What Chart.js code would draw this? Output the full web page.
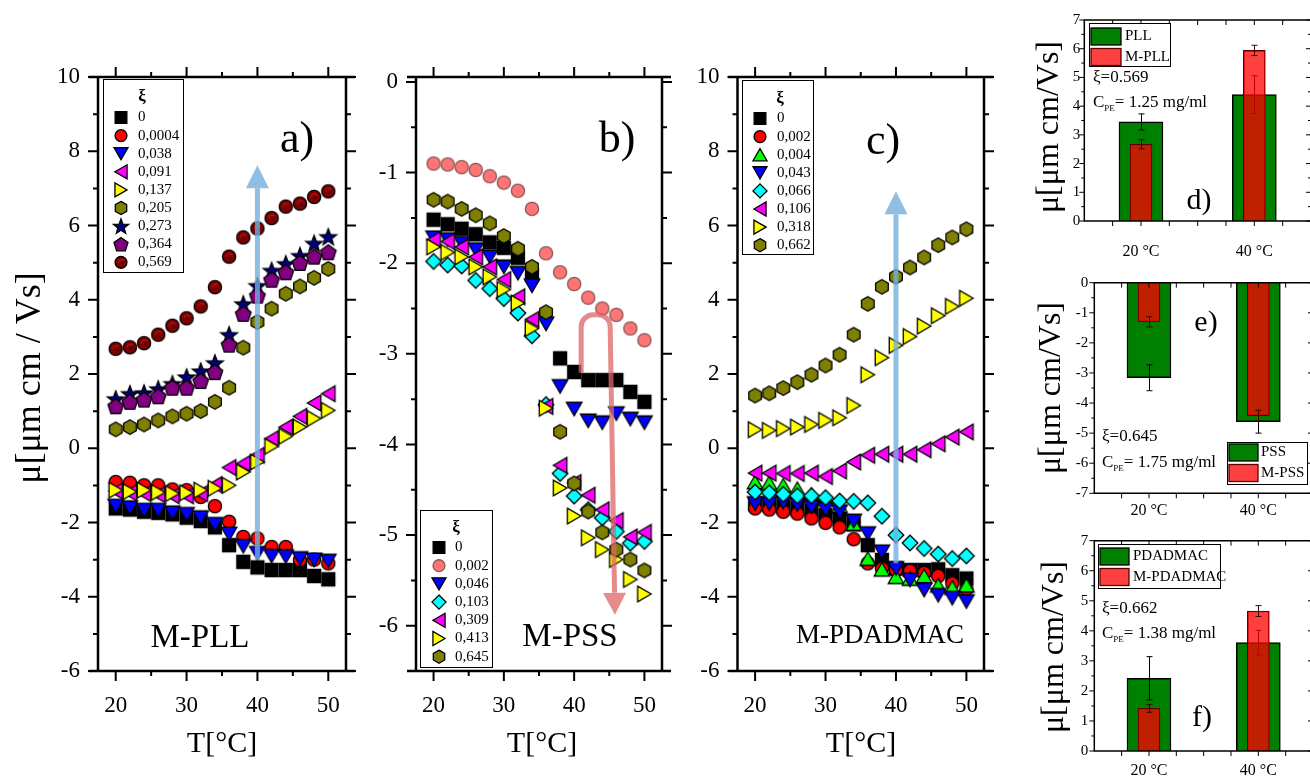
<!DOCTYPE html>
<html><head><meta charset="utf-8">
<script src="https://cdn.jsdelivr.net/npm/chart.js@4"></script>
<style>
html,body{margin:0;padding:0;overflow:hidden;background:#fff;width:1310px;height:781px;}
canvas{position:absolute;left:0;top:0;}
</style></head><body>
<canvas id="ca" width="1330" height="781"></canvas>
<canvas id="cb" width="1330" height="781"></canvas>
<canvas id="cc" width="1330" height="781"></canvas>
<canvas id="cd" width="1330" height="781"></canvas>
<canvas id="ce" width="1330" height="781"></canvas>
<canvas id="cf" width="1330" height="781"></canvas>
<script>
// ================= DATA =================
const temps = [20,22,24,26,28,30,32,34,36,38,40,42,44,46,48,50];
const xTicksT = [20,30,40,50];
const xMinorT = [25,35,45];
const yTicksAC = [-6,-4,-2,0,2,4,6,8,10];
const yMinorAC = [-5,-3,-1,1,3,5,7,9];
const yTicksB = [-6,-5,-4,-3,-2,-1,0];
const yMinorB = [-6.5,-5.5,-4.5,-3.5,-2.5,-1.5,-0.5];

// a) M-PLL
const pllXi = ['0','0,0004','0,038','0,091','0,137','0,205','0,273','0,364','0,569'];
const pll_0    = [-1.62,-1.65,-1.71,-1.74,-1.78,-1.87,-1.96,-2.13,-2.61,-3.06,-3.21,-3.28,-3.28,-3.28,-3.44,-3.53];
const pll_0004 = [-0.91,-0.93,-1.00,-1.00,-1.11,-1.13,-1.31,-1.56,-1.98,-2.39,-2.43,-2.66,-2.66,-3.01,-3.00,-3.10];
const pll_038  = [-1.56,-1.60,-1.67,-1.67,-1.74,-1.78,-1.87,-2.05,-2.31,-2.64,-2.83,-2.91,-2.92,-2.97,-3.01,-3.04];
const pll_091  = [-1.15,-1.20,-1.22,-1.25,-1.28,-1.28,-1.22,-0.98,-0.52,-0.41,-0.19,0.26,0.57,0.86,1.22,1.47];
const pll_137  = [-1.13,-1.17,-1.13,-1.19,-1.22,-1.20,-1.13,-1.08,-1.00,-0.64,-0.37,0.05,0.32,0.57,0.80,1.02];
const pll_205  = [0.51,0.57,0.64,0.75,0.86,0.93,1.00,1.25,1.63,2.71,3.40,3.76,4.16,4.36,4.59,4.83];
const pll_273  = [1.33,1.47,1.49,1.60,1.74,1.92,2.08,2.30,3.06,3.89,4.38,4.79,4.97,5.19,5.52,5.70];
const pll_364  = [1.13,1.25,1.31,1.40,1.63,1.63,1.81,2.05,2.79,3.62,4.11,4.54,4.74,4.99,5.16,5.28];
const pll_569  = [2.68,2.72,2.83,3.06,3.30,3.50,3.82,4.34,5.16,5.68,5.92,6.20,6.51,6.59,6.77,6.92];

// b) M-PSS
const pssXi = ['0','0,002','0,046','0,103','0,309','0,413','0,645'];
const pss_0   = [-1.52,-1.57,-1.62,-1.68,-1.77,-1.83,-1.94,-2.13,null,-3.05,-3.20,-3.29,-3.29,-3.29,-3.42,-3.53];
const pss_002 = [-0.90,-0.91,-0.94,-0.97,-1.04,-1.11,-1.20,-1.40,-1.89,-2.10,-2.23,-2.38,-2.50,-2.57,-2.72,-2.85];
const pss_046 = [-1.72,-1.74,-1.78,-1.85,-1.93,-2.04,-2.11,-2.25,-2.67,-3.36,-3.61,-3.74,-3.76,-3.66,-3.72,-3.76];
const pss_103 = [-1.98,-2.02,-2.03,-2.19,-2.28,-2.39,-2.55,-2.80,-3.56,-4.32,-4.57,-4.72,-4.81,-4.96,-5.09,-5.07];
const pss_309 = [-1.74,-1.76,-1.82,-1.93,-2.04,-2.18,-2.37,-2.62,-3.58,-4.23,-4.42,-4.56,-4.72,-4.84,-5.02,-4.97];
const pss_413 = [-1.82,-1.88,-1.93,-2.04,-2.15,-2.29,-2.44,-2.72,-3.60,-4.48,-4.79,-5.03,-5.16,-5.27,-5.49,-5.65];
const pss_645 = [-1.30,-1.32,-1.40,-1.47,-1.56,-1.70,-1.84,-2.04,-2.54,-3.86,-4.43,-4.74,-4.97,-5.16,-5.27,-5.39];

// c) M-PDADMAC
const pdaXi = ['0','0,002','0,004','0,043','0,066','0,106','0,318','0,662'];
const pda_0   = [-1.50,-1.52,-1.57,-1.62,-1.68,-1.80,-1.90,-2.05,-2.61,-3.01,-3.24,-3.28,-3.28,-3.26,-3.42,-3.51];
const pda_002 = [-1.62,-1.65,-1.71,-1.76,-1.89,-2.01,-2.13,-2.45,-3.10,-3.24,-3.28,-3.30,-3.36,-3.44,-3.64,-3.80];
const pda_004 = [-0.91,-0.93,-1.00,-1.09,-1.25,-1.35,-1.55,-2.03,-2.97,-3.26,-3.46,-3.51,-3.44,-3.69,-3.75,-3.69];
const pda_043 = [-1.49,-1.49,-1.45,-1.52,-1.58,-1.64,-1.71,-1.96,-2.30,-2.79,-3.24,-3.55,-3.82,-3.96,-4.04,-4.13];
const pda_066 = [-1.18,-1.20,-1.24,-1.28,-1.28,-1.33,-1.42,-1.43,-1.47,-1.83,-2.34,-2.55,-2.70,-2.85,-2.97,-2.90];
const pda_106 = [-0.67,-0.67,-0.68,-0.68,-0.67,-0.76,-0.61,-0.37,-0.19,-0.16,-0.16,-0.16,-0.04,0.12,0.30,0.44];
const pda_318 = [0.50,0.48,0.53,0.57,0.64,0.75,0.82,1.15,1.98,2.44,2.77,3.01,3.29,3.57,3.82,4.04];
const pda_662 = [1.42,1.48,1.62,1.78,1.98,2.23,2.52,3.06,3.89,4.35,4.62,4.87,5.14,5.47,5.68,5.90];

// arrows (data coordinates: T, mu)
const arrowA = [[40,-3.0],[40,7.62]];
const arrowC = [[40,-3.1],[40,6.92]];
const arrowB = [[41.0,-3.21],[41.0,-2.57],[45.1,-2.57],[45.8,-5.88]];

// d) e) f) bars
const barCats = ['20 \u00B0C','40 \u00B0C'];
const pllBar  = [3.45, 4.40]; const pllErr  = [0.28, 0.66];
const mpllBar = [2.67, 5.94]; const mpllErr = [0.16, 0.18];
const pssBar  = [-3.16, -4.62]; const pssErr  = [0.43, 0.38];
const mpssBar = [-1.30, -4.42]; const mpssErr = [0.17, 0.18];
const pdaBar  = [2.42, 3.61]; const pdaErr  = [0.72, 0.41];
const mpdaBar = [1.42, 4.66]; const mpdaErr = [0.13, 0.18];
const yTicks07 = [0,1,2,3,4,5,6,7];
const yTicksNeg = [-7,-6,-5,-4,-3,-2,-1,0];

// ================= STYLE HELPERS =================
const FONT = "'Liberation Serif','DejaVu Serif',serif";
const CW = 1330, CH = 781;

function shapePath(ctx, shape, s) {
  ctx.beginPath();
  const P = (n, R, a0, dx, dy) => {
    for (let k = 0; k < n; k++) {
      const a = (a0 + k * 360 / n) * Math.PI / 180;
      const x = dx + R * Math.cos(a), y = dy + R * Math.sin(a);
      if (k) ctx.lineTo(x, y); else ctx.moveTo(x, y);
    }
  };
  const R3 = 9 * s;
  switch (shape) {
    case 'square': ctx.rect(-6.5*s, -6.5*s, 13*s, 13*s); break;
    case 'circle': case 'sphere': ctx.arc(0, 0, 6.6*s, 0, Math.PI*2); break;
    case 'triUp': P(3, R3, -90, 0, R3/4); break;
    case 'triDown': P(3, R3, 90, 0, -R3/4); break;
    case 'triLeft': P(3, R3, 180, R3/4, 0); break;
    case 'triRight': P(3, R3, 0, -R3/4, 0); break;
    case 'diamond': P(4, 7.8*s, -90, 0, 0); break;
    case 'hexagon': P(6, 7.3*s, -90, 0, 0); break;
    case 'pentagon': P(5, 8.2*s, -90, 0, 8.2*s*0.095); break;
    case 'star': {
      const Ro = 8.8*s, Ri = 3.7*s, dy = Ro*0.095;
      for (let k = 0; k < 10; k++) {
        const a = (-90 + k*36) * Math.PI/180, R = k % 2 ? Ri : Ro;
        const x = R*Math.cos(a), y = dy + R*Math.sin(a);
        if (k) ctx.lineTo(x, y); else ctx.moveTo(x, y);
      }
      break;
    }
  }
  ctx.closePath();
}
function drawMarker(ctx, m, x, y, s) {
  ctx.save();
  ctx.translate(x, y);
  shapePath(ctx, m.shape, s);
  ctx.fillStyle = m.fill; ctx.fill();
  ctx.lineWidth = 1.3; ctx.lineJoin = 'miter'; ctx.strokeStyle = m.stroke || '#000'; ctx.stroke();
  if (m.shape === 'sphere') {
    ctx.beginPath(); ctx.arc(0.6*s, 0.6*s, 3.6*s, Math.PI*1.05, Math.PI*1.75);
    ctx.strokeStyle = '#d02020'; ctx.lineWidth = 1; ctx.stroke();
    ctx.beginPath(); ctx.arc(1.2*s, 1.2*s, 1.2*s, 0, Math.PI*2); ctx.fillStyle = '#300'; ctx.fill();
  }
  ctx.restore();
}
function markerCanvas(m, s) {
  const c = document.createElement('canvas');
  c.width = 24; c.height = 24;
  drawMarker(c.getContext('2d'), m, 12, 12, s);
  return c;
}

const M = {
  sq:   {shape:'square',   fill:'#000000'},
  red:  {shape:'circle',   fill:'#ff0000'},
  sal:  {shape:'circle',   fill:'#ff7575', stroke:'#8a5858'},
  blue: {shape:'triDown',  fill:'#0000ff'},
  grn:  {shape:'triUp',    fill:'#00ff00'},
  cyan: {shape:'diamond',  fill:'#00ffff'},
  mag:  {shape:'triLeft',  fill:'#ff00ff'},
  yel:  {shape:'triRight', fill:'#ffff00'},
  oli:  {shape:'hexagon',  fill:'#808000'},
  star: {shape:'star',     fill:'#000080'},
  pent: {shape:'pentagon', fill:'#800080'},
  sph:  {shape:'sphere',   fill:'#800000'}
};

function richText(ctx, x, y, segs, size, align) {
  ctx.save();
  ctx.textBaseline = 'middle';
  let w = 0;
  segs.forEach(sg => { ctx.font = (sg.sub ? Math.round(size*0.55) : size) + 'px ' + FONT; w += ctx.measureText(sg.t).width; });
  let cx = align === 'center' ? x - w/2 : x;
  ctx.textAlign = 'left';
  segs.forEach(sg => {
    const sz = sg.sub ? Math.round(size*0.55) : size;
    ctx.font = (sg.bold ? 'bold ' : '') + sz + 'px ' + FONT;
    ctx.fillText(sg.t, cx, y + (sg.sub ? size*0.32 : 0));
    cx += ctx.measureText(sg.t).width;
  });
  ctx.restore();
}

function makeDeco(cfg) {
  return {
    id: 'deco',
    afterDatasetDraw(chart, args) {
      if (!cfg.errors || !cfg.errors[args.index]) return;
      const err = cfg.errors[args.index];
      const ds = chart.data.datasets[args.index];
      const ys = chart.scales.y, ctx = chart.ctx;
      ctx.save(); ctx.strokeStyle = cfg.errColor[args.index]; ctx.lineWidth = 1;
      args.meta.data.forEach((bar, j) => {
        const v = ds.data[j], e = err[j];
        const x = Math.round(bar.x) + 0.5;
        const y1 = ys.getPixelForValue(v - e), y2 = ys.getPixelForValue(v + e);
        ctx.beginPath();
        ctx.moveTo(x, y1); ctx.lineTo(x, y2);
        ctx.moveTo(x-3, y1); ctx.lineTo(x+3, y1);
        ctx.moveTo(x-3, y2); ctx.lineTo(x+3, y2);
        ctx.stroke();
      });
      ctx.restore();
    },
    afterDatasetsDraw(chart) {
      const ctx = chart.ctx, xs = chart.scales.x, ys = chart.scales.y;
      (cfg.arrows || []).forEach(ar => {
        const pts = ar.pts.map(p => [xs.getPixelForValue(p[0]), ys.getPixelForValue(p[1])]);
        const tip = pts[pts.length-1], prev = pts[pts.length-2];
        const dx = tip[0]-prev[0], dy = tip[1]-prev[1], L = Math.hypot(dx, dy);
        const ux = dx/L, uy = dy/L, hl = ar.headLen, hw = ar.headW/2;
        const base = [tip[0]-ux*hl, tip[1]-uy*hl];
        ctx.save();
        ctx.globalAlpha = ar.alpha;
        ctx.strokeStyle = ar.color; ctx.fillStyle = ar.color;
        ctx.lineWidth = ar.width; ctx.lineJoin = 'round';
        ctx.beginPath();
        ctx.moveTo(pts[0][0], pts[0][1]);
        for (let i = 1; i < pts.length - 1; i++) {
          ctx.arcTo(pts[i][0], pts[i][1], pts[i+1][0], pts[i+1][1], ar.radius || 0);
        }
        ctx.lineTo(base[0], base[1]);
        ctx.stroke();
        ctx.beginPath();
        ctx.moveTo(tip[0], tip[1]);
        ctx.lineTo(base[0] - uy*hw, base[1] + ux*hw);
        ctx.lineTo(base[0] + uy*hw, base[1] - ux*hw);
        ctx.closePath(); ctx.fill();
        ctx.restore();
      });
    },
    afterDraw(chart) {
      const ctx = chart.ctx, xs = chart.scales.x, ys = chart.scales.y;
      const {left, right, top, bottom} = chart.chartArea;
      const f = cfg.frame;
      ctx.save();
      ctx.strokeStyle = '#000';
      ctx.lineWidth = f.lw;
      ctx.beginPath();
      ctx.moveTo(left, top - f.lw/2); ctx.lineTo(left, bottom + f.lw/2);
      ctx.moveTo(right, top - f.lw/2); ctx.lineTo(right, bottom + f.lw/2);
      ctx.moveTo(left - f.ext, top); ctx.lineTo(right + f.ext, top);
      ctx.moveTo(left - f.ext, bottom); ctx.lineTo(right + f.ext, bottom);
      ctx.stroke();
      ctx.lineWidth = f.tw;
      ctx.beginPath();
      const yT = (vals, len) => vals.forEach(v => {
        const p = ys.getPixelForValue(v);
        ctx.moveTo(left, p); ctx.lineTo(left - len * f.dir.left, p);
        ctx.moveTo(right, p); ctx.lineTo(right + len * f.dir.right, p);
      });
      const xP = (p, len) => {
        ctx.moveTo(p, bottom); ctx.lineTo(p, bottom + len * f.dir.bottom);
        ctx.moveTo(p, top); ctx.lineTo(p, top - len * f.dir.top);
      };
      yT(f.yMajor, f.major); yT(f.yMinor, f.minor);
      if (f.xMajor) f.xMajor.forEach(v => xP(xs.getPixelForValue(v), f.major));
      if (f.xMinor) f.xMinor.forEach(v => xP(xs.getPixelForValue(v), f.minor));
      if (f.xFrac) f.xFrac.forEach(fr => xP(left + fr*(right-left), f.major));
      ctx.stroke();
      ctx.restore();
      const lg = cfg.legend;
      if (lg) {
        ctx.save();
        ctx.fillStyle = '#fff'; ctx.fillRect(lg.box[0], lg.box[1], lg.box[2], lg.box[3]);
        ctx.strokeStyle = '#000'; ctx.lineWidth = 1;
        ctx.strokeRect(lg.box[0]+0.5, lg.box[1]+0.5, lg.box[2], lg.box[3]);
        ctx.fillStyle = '#000';
        if (lg.title) {
          ctx.font = 'bold ' + lg.titleSize + 'px ' + FONT;
          ctx.textAlign = 'center'; ctx.textBaseline = 'middle';
          ctx.fillText(lg.title, lg.titleX, lg.titleY);
        }
        ctx.font = lg.size + 'px ' + FONT; ctx.textAlign = 'left'; ctx.textBaseline = 'middle';
        lg.items.forEach((it, i) => {
          const y = lg.y0 + i * lg.dy;
          if (it.marker) drawMarker(ctx, it.marker, lg.mx, y, 0.9);
          if (it.sw) {
            ctx.fillStyle = it.fill; ctx.fillRect(lg.swX, y - lg.swH/2, lg.swW, lg.swH);
            ctx.strokeStyle = it.stroke; ctx.lineWidth = 1.3;
            ctx.strokeRect(lg.swX, y - lg.swH/2, lg.swW, lg.swH);
          }
          ctx.fillStyle = '#000';
          ctx.fillText(it.label, lg.tx, y);
        });
        ctx.restore();
      }
      (cfg.texts || []).forEach(t => {
        ctx.save();
        ctx.fillStyle = '#000';
        ctx.translate(t.x, t.y);
        if (t.rot) ctx.rotate(t.rot * Math.PI / 180);
        richText(ctx, 0, 0, t.segs || [{t: t.t}], t.size, t.align || 'center');
        ctx.restore();
      });
    }
  };
}

function scatterChart(id, geom, yr, yTicks, yMinor, series, cfg) {
  const YW = 60, XH = 60;
  const n = series.length;
  const datasets = series.map((s, i) => ({
    label: s.label,
    data: temps.map((t, j) => ({x: t, y: s.vals[j]})),
    pointStyle: markerCanvas(s.m, 1),
    pointRadius: 7, pointHoverRadius: 7,
    order: n - i, showLine: false
  }));
  cfg.frame = {lw: 2.5, tw: 2, ext: 9, major: 10, minor: 5,
    dir: {left:1, right:1, top:1, bottom:1},
    yMajor: yTicks, yMinor: yMinor, xMajor: xTicksT, xMinor: xMinorT};
  cfg.legend.items = series.map(s => ({marker: s.m, label: s.label}));
  return new Chart(document.getElementById(id), {
    type: 'scatter',
    data: {datasets},
    options: {
      responsive: false, animation: false, devicePixelRatio: 1,
      layout: {padding: {left: geom.left - YW, right: CW - geom.right, top: geom.top, bottom: CH - geom.bottom - XH}},
      plugins: {legend: {display: false}, tooltip: {enabled: false}},
      scales: {
        x: {type: 'linear', min: 17.5, max: 52.5,
          afterBuildTicks: s => { s.ticks = xTicksT.map(v => ({value: v})); },
          afterFit: s => { s.height = XH; },
          grid: {display: false, drawTicks: false}, border: {display: false},
          ticks: {font: {family: FONT, size: 23}, color: '#000', padding: 21, maxRotation: 0, callback: v => String(v)}},
        y: {type: 'linear', min: yr[0], max: yr[1],
          afterBuildTicks: s => { s.ticks = yTicks.map(v => ({value: v})); },
          afterFit: s => { s.width = YW; },
          grid: {display: false, drawTicks: false}, border: {display: false},
          ticks: {font: {family: FONT, size: 23}, color: '#000', padding: 18, callback: v => String(v)}}
      }
    },
    plugins: [makeDeco(cfg)]
  });
}

function barChart(id, geom, yr, yTicks, d1, d2, cfg) {
  const YW = 40, XH = cfg.xh;
  cfg.frame = {lw: 1.5, tw: 1, ext: 0, major: 5, minor: 3,
    dir: {left:1, right:-1, top:-1, bottom:1},
    yMajor: yTicks, yMinor: yTicks.slice(0, -1).map(v => v + 0.5),
    xFrac: [0.125,0.25,0.375,0.5,0.625,0.75,0.875]};
  cfg.errors = [d1.err, d2.err];
  cfg.errColor = ['#000', '#400000'];
  cfg.legend.items = [
    {sw: true, fill: '#008000', stroke: '#000', label: d1.label},
    {sw: true, fill: 'rgba(255,0,0,0.75)', stroke: '#5a0000', label: d2.label}];
  return new Chart(document.getElementById(id), {
    type: 'bar',
    data: {labels: barCats, datasets: [
      {label: d1.label, data: d1.vals, backgroundColor: '#008000', borderColor: '#000', borderWidth: 1.5, barThickness: 44, grouped: false, order: 2},
      {label: d2.label, data: d2.vals, backgroundColor: 'rgba(255,0,0,0.75)', borderColor: '#5a0000', borderWidth: 1, barThickness: 22, grouped: false, order: 1}
    ]},
    options: {
      responsive: false, animation: false, devicePixelRatio: 1,
      layout: {padding: {left: geom.left - YW, right: CW - geom.right, top: geom.top, bottom: CH - geom.bottom - XH}},
      plugins: {legend: {display: false}, tooltip: {enabled: false}},
      scales: {
        x: {type: 'category', offset: true,
          afterFit: s => { s.height = XH; },
          grid: {display: false, drawTicks: false}, border: {display: false},
          ticks: {font: {family: FONT, size: 16}, color: '#000', padding: cfg.xPad, maxRotation: 0}},
        y: {type: 'linear', min: yr[0], max: yr[1],
          afterBuildTicks: s => { s.ticks = yTicks.map(v => ({value: v})); },
          afterFit: s => { s.width = YW; },
          grid: {display: false, drawTicks: false}, border: {display: false},
          ticks: {font: {family: FONT, size: 15}, color: '#000', padding: cfg.yPad, callback: v => String(v)}}
      }
    },
    plugins: [makeDeco(cfg)]
  });
}

const muTitle = '\u03BC[\u03BCm cm / Vs]';
const muTitle2 = '\u03BC[\u03BCm cm/Vs]';
const Ttitle = 'T[\u00B0C]';

// ---- a ----
scatterChart('ca', {left: 98, right: 346, top: 77, bottom: 671}, [-6, 10], yTicksAC, yMinorAC, [
  {label: pllXi[0], vals: pll_0, m: M.sq},
  {label: pllXi[1], vals: pll_0004, m: M.red},
  {label: pllXi[2], vals: pll_038, m: M.blue},
  {label: pllXi[3], vals: pll_091, m: M.mag},
  {label: pllXi[4], vals: pll_137, m: M.yel},
  {label: pllXi[5], vals: pll_205, m: M.oli},
  {label: pllXi[6], vals: pll_273, m: M.star},
  {label: pllXi[7], vals: pll_364, m: M.pent},
  {label: pllXi[8], vals: pll_569, m: M.sph}
], {
  arrows: [{pts: arrowA, color: 'rgb(115,175,222)', alpha: 0.8, width: 5, headLen: 23, headW: 23}],
  legend: {box: [103, 79, 80, 193], title: '\u03BE', titleSize: 17, titleX: 142, titleY: 97,
    y0: 117.5, dy: 18.1, mx: 121, tx: 138, size: 15},
  texts: [
    {t: muTitle, x: 31, y: 378, size: 36, rot: -90},
    {t: Ttitle, x: 222, y: 744, size: 30},
    {t: 'M-PLL', x: 200, y: 638, size: 33},
    {t: 'a)', x: 297, y: 140, size: 44}
  ]
});

// ---- b ----
scatterChart('cb', {left: 416, right: 662, top: 77, bottom: 671}, [-6.5, 0.055], yTicksB, yMinorB, [
  {label: pssXi[0], vals: pss_0, m: M.sq},
  {label: pssXi[1], vals: pss_002, m: M.sal},
  {label: pssXi[2], vals: pss_046, m: M.blue},
  {label: pssXi[3], vals: pss_103, m: M.cyan},
  {label: pssXi[4], vals: pss_309, m: M.mag},
  {label: pssXi[5], vals: pss_413, m: M.yel},
  {label: pssXi[6], vals: pss_645, m: M.oli}
], {
  arrows: [{pts: arrowB, color: 'rgb(220,100,100)', alpha: 0.75, width: 5, headLen: 22, headW: 23, radius: 12}],
  legend: {box: [420, 510, 72, 157], title: '\u03BE', titleSize: 17, titleX: 456, titleY: 528,
    y0: 547.5, dy: 18.2, mx: 439, tx: 455, size: 15},
  texts: [
    {t: Ttitle, x: 542, y: 744, size: 30},
    {t: 'M-PSS', x: 570, y: 637, size: 33},
    {t: 'b)', x: 617, y: 140, size: 44}
  ]
});

// ---- c ----
scatterChart('cc', {left: 737.5, right: 984, top: 77, bottom: 671}, [-6, 10], yTicksAC, yMinorAC, [
  {label: pdaXi[0], vals: pda_0, m: M.sq},
  {label: pdaXi[1], vals: pda_002, m: M.red},
  {label: pdaXi[2], vals: pda_004, m: M.grn},
  {label: pdaXi[3], vals: pda_043, m: M.blue},
  {label: pdaXi[4], vals: pda_066, m: M.cyan},
  {label: pdaXi[5], vals: pda_106, m: M.mag},
  {label: pdaXi[6], vals: pda_318, m: M.yel},
  {label: pdaXi[7], vals: pda_662, m: M.oli}
], {
  arrows: [{pts: arrowC, color: 'rgb(115,175,222)', alpha: 0.8, width: 5, headLen: 23, headW: 23}],
  legend: {box: [742, 80, 71, 174], title: '\u03BE', titleSize: 17, titleX: 780, titleY: 99,
    y0: 118.5, dy: 18.1, mx: 760, tx: 777, size: 15},
  texts: [
    {t: Ttitle, x: 861, y: 744, size: 30},
    {t: 'M-PDADMAC', x: 880, y: 636, size: 27},
    {t: 'c)', x: 883, y: 142, size: 44}
  ]
});

// ---- d ----
barChart('cd', {left: 1084.3, right: 1311, top: 20, bottom: 221}, [0, 7], yTicks07,
  {label: 'PLL', vals: pllBar, err: pllErr}, {label: 'M-PLL', vals: mpllBar, err: mpllErr}, {
  xPad: 21, xh: 50, yPad: 4,
  legend: {box: [1089, 23, 81, 43], y0: 36.5, dy: 20.5, swX: 1091, swW: 30, swH: 17, tx: 1125, size: 15},
  texts: [
    {t: muTitle2, x: 1050, y: 127, size: 32, rot: -90},
    {t: '\u03BE=0.569', x: 1093, y: 78, size: 17, align: 'left'},
    {segs: [{t: 'C'}, {t: 'PE', sub: 1}, {t: '= 1.25 mg/ml'}], x: 1093, y: 103, size: 17, align: 'left'},
    {t: 'd)', x: 1199, y: 201, size: 30}
  ]
});

// ---- e ----
barChart('ce', {left: 1094.3, right: 1313, top: 282.7, bottom: 493.3}, [-7, 0], yTicksNeg,
  {label: 'PSS', vals: pssBar, err: pssErr}, {label: 'M-PSS', vals: mpssBar, err: mpssErr}, {
  xPad: 8, xh: 40, yPad: 6,
  legend: {box: [1227, 442, 80, 42], y0: 452.5, dy: 20.5, swX: 1229, swW: 29, swH: 17, tx: 1261, size: 15},
  texts: [
    {t: muTitle2, x: 1052, y: 388, size: 32, rot: -90},
    {t: '\u03BE=0.645', x: 1102, y: 437, size: 17, align: 'left'},
    {segs: [{t: 'C'}, {t: 'PE', sub: 1}, {t: '= 1.75 mg/ml'}], x: 1102, y: 463, size: 17, align: 'left'},
    {t: 'e)', x: 1206, y: 323, size: 30}
  ]
});

// ---- f ----
barChart('cf', {left: 1094.3, right: 1313, top: 540.7, bottom: 751}, [0, 7], yTicks07,
  {label: 'PDADMAC', vals: pdaBar, err: pdaErr}, {label: 'M-PDADMAC', vals: mpdaBar, err: mpdaErr}, {
  xPad: 10, xh: 30, yPad: 6,
  legend: {box: [1098, 544, 122, 44], y0: 556.5, dy: 20.5, swX: 1100, swW: 29, swH: 17, tx: 1133, size: 15},
  texts: [
    {t: muTitle2, x: 1055, y: 647, size: 32, rot: -90},
    {t: '\u03BE=0.662', x: 1102, y: 609, size: 17, align: 'left'},
    {segs: [{t: 'C'}, {t: 'PE', sub: 1}, {t: '= 1.38 mg/ml'}], x: 1102, y: 634, size: 17, align: 'left'},
    {t: 'f)', x: 1202, y: 718, size: 30}
  ]
});
</script>
</body></html>
